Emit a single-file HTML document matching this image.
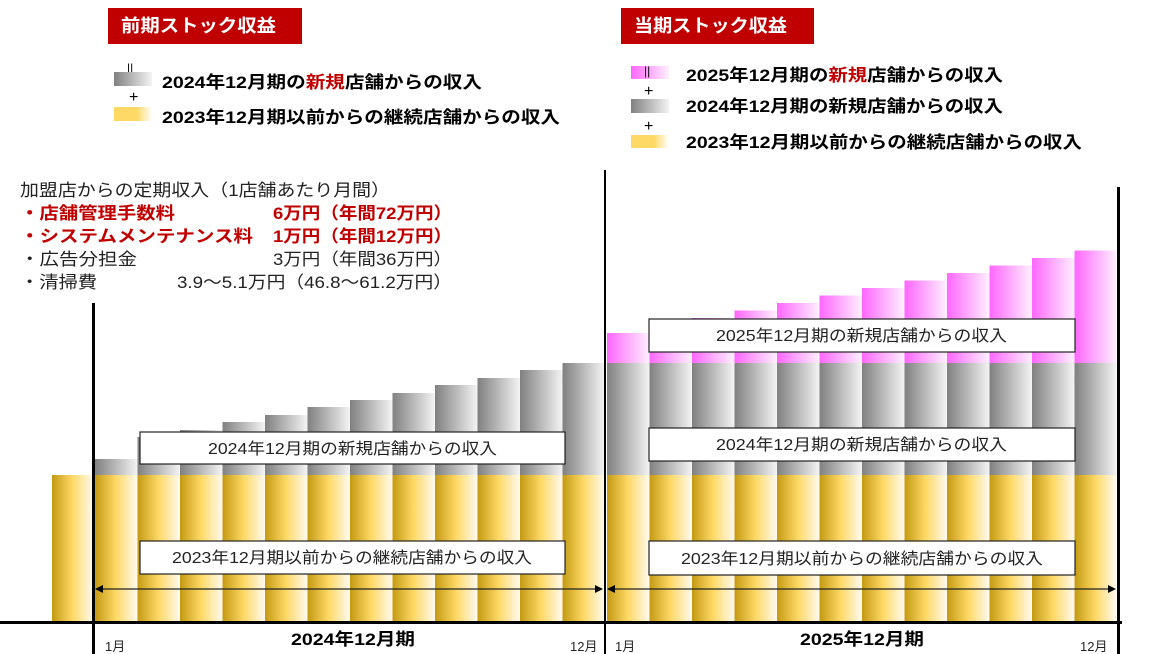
<!DOCTYPE html>
<html><head><meta charset="utf-8"><style>
html,body{margin:0;padding:0;background:#fff;}
svg{display:block;font-family:"Liberation Sans","Noto Sans CJK JP",sans-serif;}
</style></head><body>
<svg width="1169" height="654" viewBox="0 0 1169 654" xmlns="http://www.w3.org/2000/svg">
<defs>
<linearGradient id="gold" x1="0" y1="0" x2="1" y2="0">
<stop offset="0" stop-color="#c49a12"/><stop offset="0.5" stop-color="#ffd966"/><stop offset="1" stop-color="#fffaf0"/></linearGradient>
<linearGradient id="grey" x1="0" y1="0" x2="1" y2="0">
<stop offset="0" stop-color="#808080"/><stop offset="1" stop-color="#f4f4f4"/></linearGradient>
<linearGradient id="pink" x1="0" y1="0" x2="1" y2="0">
<stop offset="0" stop-color="#ff66ff"/><stop offset="1" stop-color="#fff0ff"/></linearGradient>
<linearGradient id="goldL" x1="0" y1="0" x2="1" y2="0">
<stop offset="0" stop-color="#ffd966"/><stop offset="0.6" stop-color="#ffd966"/><stop offset="1" stop-color="#fff"/></linearGradient>
</defs>

<!-- headers -->
<rect x="108" y="8" width="194" height="36" fill="#c00000"/>
<text x="121" y="32" font-size="18" font-weight="bold" fill="#fff" textLength="155" lengthAdjust="spacingAndGlyphs">前期ストック収益</text>
<rect x="621" y="8" width="193" height="36" fill="#c00000"/>
<text x="634" y="32" font-size="18" font-weight="bold" fill="#fff" textLength="153" lengthAdjust="spacingAndGlyphs">当期ストック収益</text>

<!-- left legend -->
<text x="127" y="72" font-size="12">||</text>
<rect x="114" y="72" width="38" height="14" fill="url(#grey)"/>
<text x="162" y="88" font-size="17" font-weight="bold" textLength="320" lengthAdjust="spacingAndGlyphs">2024年12月期の<tspan fill="#c00000">新規</tspan>店舗からの収入</text>
<text x="129" y="102" font-size="16">+</text>
<rect x="114" y="107" width="38" height="14" fill="url(#goldL)"/>
<text x="162" y="123" font-size="17" font-weight="bold" textLength="398" lengthAdjust="spacingAndGlyphs">2023年12月期以前からの継続店舗からの収入</text>

<!-- right legend -->
<rect x="631" y="66" width="38" height="13" fill="url(#pink)"/>
<text x="644" y="75" font-size="12">||</text>
<text x="686" y="81" font-size="17" font-weight="bold" textLength="317" lengthAdjust="spacingAndGlyphs">2025年12月期の<tspan fill="#c00000">新規</tspan>店舗からの収入</text>
<text x="644" y="96" font-size="16">+</text>
<rect x="631" y="99" width="38" height="14" fill="url(#grey)"/>
<text x="686" y="112" font-size="17" font-weight="bold" textLength="317" lengthAdjust="spacingAndGlyphs">2024年12月期の新規店舗からの収入</text>
<text x="644" y="131" font-size="16">+</text>
<rect x="631" y="135" width="38" height="13" fill="url(#goldL)"/>
<text x="686" y="148" font-size="17" font-weight="bold" textLength="396" lengthAdjust="spacingAndGlyphs">2023年12月期以前からの継続店舗からの収入</text>

<!-- text block -->
<text x="20" y="196" font-size="17" fill="#222" textLength="370" lengthAdjust="spacingAndGlyphs">加盟店からの定期収入（1店舗あたり月間）</text>
<g font-size="17" font-weight="bold" fill="#c00000">
<text x="20" y="219" textLength="155" lengthAdjust="spacingAndGlyphs">・店舗管理手数料</text><text x="273" y="219" textLength="179" lengthAdjust="spacingAndGlyphs">6万円（年間72万円）</text>
<text x="20" y="242" textLength="233" lengthAdjust="spacingAndGlyphs">・システムメンテナンス料</text><text x="273" y="242" textLength="179" lengthAdjust="spacingAndGlyphs">1万円（年間12万円）</text>
</g>
<g font-size="17" fill="#222">
<text x="20" y="265" textLength="117" lengthAdjust="spacingAndGlyphs">・広告分担金</text><text x="273" y="265" textLength="179" lengthAdjust="spacingAndGlyphs">3万円（年間36万円）</text>
<text x="20" y="288" textLength="77" lengthAdjust="spacingAndGlyphs">・清掃費</text><text x="177" y="288" textLength="275" lengthAdjust="spacingAndGlyphs">3.9～5.1万円（46.8～61.2万円）</text>
</g>

<!-- pre bar -->
<rect x="52" y="475" width="41" height="147" fill="url(#gold)"/>

<!-- 2024 bars -->
<g>
<rect x="95" y="459" width="42.5" height="16" fill="url(#grey)"/>
<rect x="137.5" y="437" width="42.5" height="38" fill="url(#grey)"/>
<rect x="180" y="430" width="42.5" height="45" fill="url(#grey)"/>
<rect x="222.5" y="422" width="42.5" height="53" fill="url(#grey)"/>
<rect x="265" y="415" width="42.5" height="60" fill="url(#grey)"/>
<rect x="307.5" y="407" width="42.5" height="68" fill="url(#grey)"/>
<rect x="350" y="400" width="42.5" height="75" fill="url(#grey)"/>
<rect x="392.5" y="393" width="42.5" height="82" fill="url(#grey)"/>
<rect x="435" y="385" width="42.5" height="90" fill="url(#grey)"/>
<rect x="477.5" y="378" width="42.5" height="97" fill="url(#grey)"/>
<rect x="520" y="370" width="42.5" height="105" fill="url(#grey)"/>
<rect x="562.5" y="363" width="42" height="112" fill="url(#grey)"/>
</g>
<g fill="url(#gold)">
<rect x="95" y="475" width="42.5" height="147"/>
<rect x="137.5" y="475" width="42.5" height="147"/>
<rect x="180" y="475" width="42.5" height="147"/>
<rect x="222.5" y="475" width="42.5" height="147"/>
<rect x="265" y="475" width="42.5" height="147"/>
<rect x="307.5" y="475" width="42.5" height="147"/>
<rect x="350" y="475" width="42.5" height="147"/>
<rect x="392.5" y="475" width="42.5" height="147"/>
<rect x="435" y="475" width="42.5" height="147"/>
<rect x="477.5" y="475" width="42.5" height="147"/>
<rect x="520" y="475" width="42.5" height="147"/>
<rect x="562.5" y="475" width="42" height="147"/>
</g>

<!-- 2025 bars -->
<g fill="url(#pink)">
<rect x="607" y="333" width="42.5" height="30"/>
<rect x="649.5" y="325.5" width="42.5" height="37.5"/>
<rect x="692" y="318" width="42.5" height="45"/>
<rect x="734.5" y="310.5" width="42.5" height="52.5"/>
<rect x="777" y="303" width="42.5" height="60"/>
<rect x="819.5" y="295.5" width="42.5" height="67.5"/>
<rect x="862" y="288" width="42.5" height="75"/>
<rect x="904.5" y="280.5" width="42.5" height="82.5"/>
<rect x="947" y="273" width="42.5" height="90"/>
<rect x="989.5" y="265.5" width="42.5" height="97.5"/>
<rect x="1032" y="258" width="42.5" height="105"/>
<rect x="1074.5" y="250.5" width="42" height="112.5"/>
</g>
<g fill="url(#grey)">
<rect x="607" y="363" width="42.5" height="112"/>
<rect x="649.5" y="363" width="42.5" height="112"/>
<rect x="692" y="363" width="42.5" height="112"/>
<rect x="734.5" y="363" width="42.5" height="112"/>
<rect x="777" y="363" width="42.5" height="112"/>
<rect x="819.5" y="363" width="42.5" height="112"/>
<rect x="862" y="363" width="42.5" height="112"/>
<rect x="904.5" y="363" width="42.5" height="112"/>
<rect x="947" y="363" width="42.5" height="112"/>
<rect x="989.5" y="363" width="42.5" height="112"/>
<rect x="1032" y="363" width="42.5" height="112"/>
<rect x="1074.5" y="363" width="42" height="112"/>
</g>
<g fill="url(#gold)">
<rect x="607" y="475" width="42.5" height="147"/>
<rect x="649.5" y="475" width="42.5" height="147"/>
<rect x="692" y="475" width="42.5" height="147"/>
<rect x="734.5" y="475" width="42.5" height="147"/>
<rect x="777" y="475" width="42.5" height="147"/>
<rect x="819.5" y="475" width="42.5" height="147"/>
<rect x="862" y="475" width="42.5" height="147"/>
<rect x="904.5" y="475" width="42.5" height="147"/>
<rect x="947" y="475" width="42.5" height="147"/>
<rect x="989.5" y="475" width="42.5" height="147"/>
<rect x="1032" y="475" width="42.5" height="147"/>
<rect x="1074.5" y="475" width="42" height="147"/>
</g>

<!-- label boxes -->
<g fill="#fff" stroke="#222" stroke-width="1.2">
<rect x="140" y="432" width="425" height="32"/>
<rect x="140" y="541" width="425" height="33"/>
<rect x="649" y="319" width="426" height="33"/>
<rect x="649" y="428" width="426" height="33"/>
<rect x="649" y="541" width="426" height="34"/>
</g>
<g font-size="16" fill="#222">
<text x="208" y="454" textLength="289" lengthAdjust="spacingAndGlyphs">2024年12月期の新規店舗からの収入</text>
<text x="172" y="563" textLength="360" lengthAdjust="spacingAndGlyphs">2023年12月期以前からの継続店舗からの収入</text>
<text x="716" y="341" textLength="291" lengthAdjust="spacingAndGlyphs">2025年12月期の新規店舗からの収入</text>
<text x="716" y="450" textLength="291" lengthAdjust="spacingAndGlyphs">2024年12月期の新規店舗からの収入</text>
<text x="681" y="564" textLength="362" lengthAdjust="spacingAndGlyphs">2023年12月期以前からの継続店舗からの収入</text>
</g>

<!-- arrows -->
<g stroke="#222" stroke-width="1.2">
<line x1="100" y1="589" x2="598" y2="589"/>
<line x1="612" y1="589" x2="1110" y2="589"/>
</g>
<g fill="#000">
<polygon points="95,589 103,585 103,593"/>
<polygon points="603,589 595,585 595,593"/>
<polygon points="607,589 615,585 615,593"/>
<polygon points="1116,589 1108,585 1108,593"/>
</g>

<!-- axes -->
<rect x="0" y="621" width="1122" height="3" fill="#000"/>
<rect x="92" y="303" width="3" height="351" fill="#000"/>
<rect x="604" y="170" width="2" height="484" fill="#000"/>
<rect x="1117" y="187" width="3" height="467" fill="#000"/>

<!-- axis labels -->
<g font-size="13" fill="#222">
<text x="105" y="651">1月</text>
<text x="570" y="651">12月</text>
<text x="615" y="651">1月</text>
<text x="1080" y="651">12月</text>
</g>
<g font-size="17" font-weight="bold">
<text x="291" y="645" textLength="124" lengthAdjust="spacingAndGlyphs">2024年12月期</text>
<text x="800" y="645" textLength="124" lengthAdjust="spacingAndGlyphs">2025年12月期</text>
</g>
</svg>
</body></html>
